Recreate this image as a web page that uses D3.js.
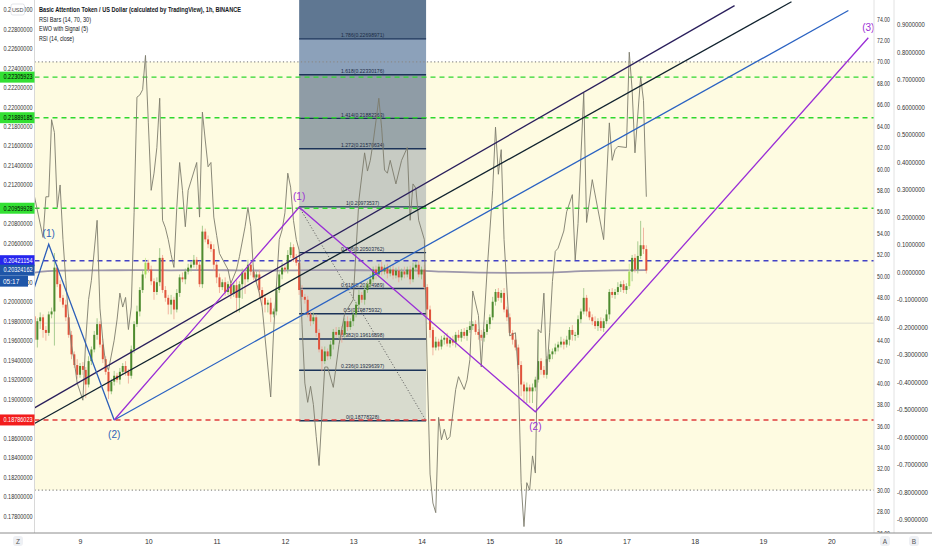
<!DOCTYPE html>
<html>
<head>
<meta charset="utf-8">
<script src="https://cdn.jsdelivr.net/npm/d3@7"></script>
<style>
  body { margin: 0; background: #fff; }
  svg { display: block; font-family: 'Liberation Sans', Arial, sans-serif; }
</style>
</head>
<body>
<div id="chart"></div>
<script>
// Hourly BAT/USD candles, hour 0 = day 9 00:00
const firstHour = -16
const firstOpen = 0.1985
const closes = [
  0.1961, 0.1980, 0.1984, 0.1971, 0.1968, 0.1987, 0.1990, 0.2035, 0.2018, 0.2004,
  0.1997, 0.1984, 0.1966, 0.1946, 0.1935, 0.1925, 0.1934, 0.1930, 0.1915, 0.1939,
  0.1951, 0.1966, 0.1977, 0.1956, 0.1941, 0.1928, 0.1908, 0.1918, 0.1924, 0.1920,
  0.1928, 0.1934, 0.1928, 0.1924, 0.1951, 0.1977, 0.1990, 0.2012, 0.2028, 0.2040,
  0.2033, 0.2021, 0.2010, 0.2020, 0.2045, 0.2012, 0.2004, 0.1997, 0.2002, 0.1992,
  0.2009, 0.2025, 0.2023, 0.2031, 0.2035, 0.2038, 0.2043, 0.2038, 0.2018, 0.2072,
  0.2064, 0.2059, 0.2054, 0.2038, 0.2025, 0.2015, 0.2020, 0.2010, 0.2018, 0.2008,
  0.2017, 0.2004, 0.2018, 0.2030, 0.2023, 0.2038, 0.2031, 0.2025, 0.2028, 0.2012,
  0.2004, 0.1997, 0.1999, 0.1987, 0.1990, 0.2012, 0.2028, 0.2035, 0.2033, 0.2048,
  0.2056, 0.2045, 0.2040, 0.2012, 0.2005, 0.2002, 0.1987, 0.1980, 0.1984, 0.1968,
  0.1951, 0.1939, 0.1949, 0.1944, 0.1956, 0.1969, 0.1966, 0.1971, 0.1966, 0.1980,
  0.1974, 0.1980, 0.1987, 0.1997, 0.2007, 0.2002, 0.2012, 0.2018, 0.2023, 0.2033,
  0.2028, 0.2036, 0.2031, 0.2035, 0.2029, 0.2033, 0.2027, 0.2032, 0.2025, 0.2031,
  0.2028, 0.2033, 0.2023, 0.2035, 0.2038, 0.2028, 0.2033, 0.2015, 0.1992, 0.1971,
  0.1953, 0.1959, 0.1954, 0.1961, 0.1963, 0.1957, 0.1961, 0.1958, 0.1966, 0.1963,
  0.1969, 0.1965, 0.1971, 0.1975, 0.1977, 0.1969, 0.1966, 0.1963, 0.1969, 0.1977,
  0.1984, 0.2000, 0.2010, 0.2004, 0.2009, 0.1992, 0.1984, 0.1968, 0.1961, 0.1953,
  0.1935, 0.1915, 0.1908, 0.1912, 0.1908, 0.1912, 0.1920, 0.1939, 0.1930, 0.1925,
  0.1941, 0.1946, 0.1949, 0.1953, 0.1956, 0.1959, 0.1956, 0.1961, 0.1971, 0.1966,
  0.1966, 0.1982, 0.1990, 0.2004, 0.1990, 0.1984, 0.1980, 0.1975, 0.1980, 0.1973,
  0.1980, 0.1987, 0.2010, 0.2007, 0.2010, 0.2015, 0.2018, 0.2012, 0.2016, 0.2031,
  0.2045, 0.2033, 0.2047, 0.2058, 0.2054, 0.2032
]
// Wick lengths above / below the body, in units of 0.0001
const wickHi = [
  4, 3, 5, 3, 4, 3, 4, 15, 3, 4,  3, 5, 3, 4, 3, 6, 3, 4, 3, 5,
  3, 4, 6, 3, 6, 3, 4, 3, 5, 3,  4, 3, 5, 3, 4, 3, 6, 3, 4, 5,
  3, 4, 3, 5, 10, 3, 4, 3, 5, 3,  4, 3, 5, 3, 4, 3, 5, 3, 4, 6,
  3, 4, 3, 5, 3, 4, 3, 5, 3, 4,  3, 5, 3, 4, 3, 5, 3, 4, 3, 5,
  3, 4, 3, 5, 3, 4, 3, 5, 3, 5,  5, 3, 4, 3, 5, 3, 4, 3, 5, 3,
  4, 3, 5, 3, 4, 3, 5, 3, 4, 3,  5, 3, 4, 3, 5, 3, 4, 3, 5, 3,
  4, 3, 5, 3, 4, 3, 5, 3, 4, 3,  5, 3, 4, 5, 3, 4, 3, 5, 3, 4,
  3, 5, 3, 4, 3, 5, 3, 4, 3, 5,  3, 4, 3, 5, 3, 4, 3, 5, 3, 4,
  3, 5, 3, 4, 3, 5, 3, 4, 3, 5,  3, 4, 3, 5, 3, 4, 3, 30, 3, 4,
  3, 5, 3, 4, 3, 5, 3, 4, 3, 5,  3, 4, 3, 10, 3, 4, 3, 5, 3, 4,
  3, 5, 3, 4, 3, 5, 3, 4, 3, 8,  3, 4, 15, 25, 18, 4
]
const wickLo = [
  8, 8, 8, 8, 8, 3, 4, 35, 3, 4,  3, 4, 3, 5, 3, 4, 3, 5, 14, 3,
  4, 3, 5, 3, 4, 3, 8, 3, 4, 3,  5, 3, 4, 8, 3, 4, 3, 5, 3, 4,
  3, 4, 8, 3, 4, 3, 4, 10, 10, 10,  3, 4, 3, 5, 3, 4, 3, 5, 3, 4,
  3, 4, 3, 6, 6, 6, 3, 4, 3, 5,  3, 15, 15, 15, 15, 3, 4, 3, 5, 8,
  8, 8, 8, 8, 3, 4, 3, 5, 3, 4,  3, 4, 3, 5, 3, 4, 3, 5, 3, 4,
  3, 10, 3, 4, 3, 5, 3, 4, 8, 3,  4, 3, 5, 3, 4, 3, 5, 3, 4, 3,
  5, 3, 4, 3, 5, 3, 4, 3, 5, 3,  4, 3, 5, 3, 4, 3, 5, 3, 8, 8,
  8, 3, 4, 3, 5, 3, 4, 3, 5, 3,  4, 3, 5, 3, 4, 3, 5, 3, 4, 3,
  5, 3, 4, 3, 5, 3, 4, 3, 5, 3,  4, 12, 12, 12, 12, 12, 4, 3, 5, 3,
  4, 3, 5, 3, 4, 3, 5, 3, 6, 6,  6, 3, 4, 3, 5, 3, 4, 3, 5, 3,
  4, 3, 5, 3, 4, 3, 5, 3, 4, 3,  10, 3, 4, 3, 5, 3
]

// RSI (14, close) turning points
const rsiHours = [
  -16, -13, -12, -11, -10, -9, -8, -7, -6, -5,
  -4, -3, -2, -1, 1, 2, 3, 4, 6, 7,
  8, 9, 10, 12, 13, 14, 15, 16, 17, 18,
  19, 20, 21, 22, 23, 24, 25, 26, 27, 28,
  29, 30, 31, 32, 33, 34, 35, 36, 37, 38,
  41, 42, 43, 44, 45, 46, 47, 48, 49, 52,
  53, 55, 56, 58, 59, 60, 61, 63, 64, 67,
  68, 69, 70, 71, 72, 73, 74, 75, 76, 77,
  78, 79, 80, 81, 82, 83, 84, 85, 86, 87,
  89, 91, 93, 96, 98, 100, 101, 102, 103, 104,
  105, 106, 107, 108, 109, 111, 113, 115, 116, 117,
  118, 119, 120, 121, 122, 123, 124, 125, 126, 127,
  128, 129, 130, 132, 133, 135, 136, 137, 138, 140,
  141, 143, 145, 146, 147, 148, 149, 151, 153, 154,
  155, 156, 157, 158, 159, 160, 161, 162, 163, 164,
  165, 166, 167, 168, 170, 171, 173, 174, 175, 176,
  177, 178, 180, 182, 184, 186, 187, 188, 189, 192,
  193, 194, 195, 197, 198, 199
]
const rsiValues = [
  57.4, 53.6, 57.4, 57.4, 64.6, 63.4, 56.4, 58.5, 53.4, 49.6,
  46.0, 43.5, 42.0, 40.0, 38.4, 44.0, 47.8, 49.6, 55.2, 47.0,
  44.0, 41.8, 41.2, 44.0, 45.9, 48.4, 47.1, 48.0, 45.0, 47.1,
  55.9, 66.7, 66.9, 67.4, 70.6, 64.3, 58.0, 59.6, 62.0, 66.6,
  55.2, 54.5, 53.4, 52.0, 50.8, 56.4, 60.6, 58.0, 54.6, 58.0,
  60.6, 55.5, 65.3, 62.7, 60.2, 60.6, 55.5, 53.8, 52.1, 50.6,
  49.3, 50.6, 51.8, 54.6, 56.4, 54.6, 50.3, 48.4, 47.1, 38.7,
  44.7, 49.0, 53.4, 54.3, 55.9, 59.6, 58.3, 55.2, 53.4, 52.4,
  45.5, 40.0, 38.2, 39.7, 38.0, 35.0, 32.3, 37.0, 41.5, 41.5,
  39.6, 43.6, 46.5, 47.8, 57.1, 61.5, 59.8, 60.8, 62.5, 64.5,
  66.6, 63.8, 59.9, 59.6, 60.8, 58.6, 60.8, 62.0, 55.2, 58.6,
  58.2, 55.2, 54.3, 53.4, 41.5, 31.5, 28.8, 27.9, 36.8, 34.7,
  35.7, 34.7, 35.0, 39.4, 40.6, 39.4, 40.3, 42.2, 48.6, 46.3,
  41.5, 50.3, 58.0, 63.9, 59.5, 61.8, 53.4, 44.4, 44.7, 40.9,
  30.7, 26.6, 30.7, 30.0, 33.2, 31.6, 45.0, 44.7, 48.4, 40.9,
  44.7, 49.5, 52.3, 52.6, 54.2, 56.0, 57.6, 51.5, 54.9, 61.1,
  67.1, 55.0, 59.0, 56.2, 53.4, 64.3, 60.8, 61.8, 62.1, 62.0,
  70.9, 67.4, 61.5, 68.6, 66.4, 57.4
]
const rsiUpper = 70
const rsiLower = 30

// EWO with Signal (5)
const ewoHours = [-16, -8, 8, 20, 32, 44, 56, 68, 80, 92, 104, 116, 128, 140, 152, 164, 176, 188, 199]
const ewoValues = [-0.002, 0.005, 0.006, 0.007, 0.006, 0.007, 0.006, 0.005, 0.007, 0.007,
  0.006, 0.006, 0.001, -0.002, -0.003, -0.002, 0.003, 0.006, 0.007]

// Axis ticks
const dayHours = [0, 24, 48, 72, 96, 120, 144, 168, 192, 216, 240, 264]
const dayLabels = ['9', '10', '11', '12', '13', '14', '15', '16', '17', '18', '19', '20']
const priceTicks = [0.178, 0.180, 0.182, 0.184, 0.186, 0.188, 0.190, 0.192, 0.194, 0.196, 0.198,
  0.200, 0.202, 0.204, 0.206, 0.208, 0.210, 0.212, 0.214, 0.216, 0.218, 0.220, 0.222, 0.224,
  0.226, 0.228, 0.230]
const rsiTicks = [26, 28, 30, 32, 34, 36, 38, 40, 42, 44, 46, 48, 50, 52, 54, 56, 58, 60, 62,
  64, 66, 68, 70, 72, 74]
const ewoTicks = [-0.9, -0.8, -0.7, -0.6, -0.5, -0.4, -0.3, -0.2, -0.1, 0, 0.1, 0.2, 0.3, 0.4,
  0.5, 0.6, 0.7, 0.8, 0.9]

// Fibonacci retracement
const fibStart = 77
const fibEnd = 121.6
const fibLevels = ['0', '0.236', '0.382', '0.5', '0.618', '0.786', '1', '1.272', '1.414', '1.618', '1.786']
const fibPrices = [0.18778328, 0.19296397, 0.19616898, 0.19875932, 0.20134989, 0.20503762,
  0.20973537, 0.21570634, 0.21882363, 0.22330176, 0.22698971]

// Horizontal levels and price labels
const levelPrices = [0.22305923, 0.21889185, 0.20959928, 0.20421154, 0.18786023]
const lastPrice = 0.20324162
const countdown = '05:17'
const guidePrice = 0.1978

// Drawings
const blueWaveHours = [-16, -11, 12]
const blueWavePrices = [0.2015, 0.2059, 0.18786]
const blueWaveLabels = ['', '(1)', '(2)']
const purpleWaveHours = [12, 77, 160, 277]
const purpleWavePrices = [0.18786, 0.2097, 0.1887, 0.2271]
const purpleWaveLabels = ['', '(1)', '(2)', '(3)']
const channelAHours = [-16, 230]
const channelAPrices = [0.1891, 0.2304]
const channelBHours = [-16, 250]
const channelBPrices = [0.1875, 0.2308]
const rayHours = [12, 270]
const rayPrices = [0.18786, 0.2299]

const legendLines = [
  'Basic Attention Token / US Dollar (calculated by TradingView), 1h, BINANCE',
  'RSI Bars (14, 70, 30)',
  'EWO with Signal (5)',
  'RSI (14, close)'
]

// Layout
const W = 932
const H = 550
const left = 34.5
const right = 874
const bottom = 533
const font = "'Liberation Sans', Arial, sans-serif"

const svg = d3.select('#chart').append('svg')
  .attr('width', W)
  .attr('height', H)

// Scales
const x = d3.scaleLinear().domain([-16, 279]).range([left, right])
const y = d3.scaleLinear().domain([0.178, 0.228]).range([516, 29])
const yRsi = d3.scaleLinear().domain([26, 74]).range([533, 19])
const yEwo = d3.scaleLinear().domain([-0.9, 0.9]).range([519.5, 24.5])

svg.append('rect').attr('width', W).attr('height', H).attr('fill', '#fff')

svg.append('clipPath').attr('id', 'plot')
  .append('rect')
  .attr('x', left).attr('y', 0)
  .attr('width', right - left).attr('height', bottom)

const plot = svg.append('g').attr('clip-path', 'url(#plot)')

// RSI band
plot.append('rect')
  .attr('x', left)
  .attr('y', yRsi(rsiUpper))
  .attr('width', right - left)
  .attr('height', yRsi(rsiLower) - yRsi(rsiUpper))
  .attr('fill', '#fefbe1')

plot.append('line')
  .attr('x1', left).attr('x2', right)
  .attr('y1', y(guidePrice)).attr('y2', y(guidePrice))
  .attr('stroke', '#dcdcd2')

// Fib bands
const fibBandColors = ['#d8dbce', '#d8dbce', '#d8dbce', '#d8dbce', '#d8dbce', '#d5d8cc',
  '#c7cbc3', '#99a5a9', '#8f9ca6', '#8ca1ba']
const fx0 = x(fibStart)
const fx1 = x(fibEnd)

fibBandColors.forEach((c, i) => {
  plot.append('rect')
    .attr('x', fx0)
    .attr('y', y(fibPrices[i + 1]))
    .attr('width', fx1 - fx0)
    .attr('height', y(fibPrices[i]) - y(fibPrices[i + 1]))
    .attr('fill', c)
})
plot.append('rect')
  .attr('x', fx0).attr('y', 0)
  .attr('width', fx1 - fx0)
  .attr('height', y(fibPrices[fibPrices.length - 1]))
  .attr('fill', '#5f7792')

// RSI 70 / 30
plot.selectAll('.rsi-level')
  .data([rsiUpper, rsiLower])
  .enter()
  .append('line')
  .attr('x1', left).attr('x2', right)
  .attr('y1', d => yRsi(d)).attr('y2', d => yRsi(d))
  .attr('stroke', '#8a8a8a')
  .attr('stroke-width', 1.2)
  .attr('stroke-dasharray', '1.2,2.4')

// Fib level lines
plot.selectAll('.fib-line')
  .data(fibPrices)
  .enter()
  .append('line')
  .attr('x1', fx0).attr('x2', fx1)
  .attr('y1', d => y(d)).attr('y2', d => y(d))
  .attr('stroke', '#1b3358')
  .attr('stroke-width', 1.4)

plot.selectAll('.fib-label')
  .data(fibPrices)
  .enter()
  .append('text')
  .attr('x', (fx0 + fx1) / 2)
  .attr('y', d => y(d) - 1.8)
  .attr('text-anchor', 'middle')
  .attr('font-size', 6)
  .attr('fill', '#1b2b45')
  .attr('textLength', (d, i) => (fibLevels[i] + '(' + d.toFixed(8) + ')').length * 2.55)
  .attr('lengthAdjust', 'spacingAndGlyphs')
  .text((d, i) => `${fibLevels[i]}(${d.toFixed(8)})`)

plot.append('line')
  .attr('x1', fx0).attr('y1', y(fibPrices[6]))
  .attr('x2', fx1).attr('y2', y(fibPrices[0]))
  .attr('stroke', '#555')
  .attr('stroke-dasharray', '1,2')

// Dashed price levels
const levelColors = ['#2fd82f', '#2fd82f', '#2fd82f', '#4242c6', '#e03c3c']
plot.selectAll('.level')
  .data(levelPrices)
  .enter()
  .append('line')
  .attr('x1', left).attr('x2', right)
  .attr('y1', d => y(d)).attr('y2', d => y(d))
  .attr('stroke', (d, i) => levelColors[i])
  .attr('stroke-width', 1.4)
  .attr('stroke-dasharray', '5,4')

// EWO line
const ewoLine = d3.line()
  .x(d => x(d[0]))
  .y(d => yEwo(d[1]))
  .curve(d3.curveMonotoneX)

plot.append('path')
  .datum(ewoHours.map((h, i) => [h, ewoValues[i]]))
  .attr('d', ewoLine)
  .attr('fill', 'none')
  .attr('stroke', '#9d97ab')
  .attr('stroke-width', 1.8)

// Candles
const rsiByHour = new Map(rsiHours.map((h, i) => [h, rsiValues[i]]))
const candles = closes.map((c, i) => {
  const o = i === 0 ? firstOpen : closes[i - 1]
  return {
    hour: firstHour + i,
    open: o,
    close: c,
    high: Math.max(o, c) + wickHi[i] / 10000,
    low: Math.min(o, c) - wickLo[i] / 10000
  }
})

function candleColor(d) {
  if ((rsiByHour.get(d.hour) || 0) > rsiUpper) return '#a6dc5a'
  return d.close >= d.open ? '#4e8b2f' : '#e0533c'
}

function wickColor(d) {
  if ((rsiByHour.get(d.hour) || 0) > rsiUpper) return '#c8ea96'
  return d.close >= d.open ? '#93c07c' : '#eea391'
}

plot.selectAll('.wick')
  .data(candles)
  .enter()
  .append('line')
  .attr('x1', d => x(d.hour)).attr('x2', d => x(d.hour))
  .attr('y1', d => y(d.high)).attr('y2', d => y(d.low))
  .attr('stroke', wickColor)
  .attr('stroke-width', 0.8)

plot.selectAll('.body')
  .data(candles)
  .enter()
  .append('rect')
  .attr('x', d => x(d.hour) - 1)
  .attr('y', d => y(Math.max(d.open, d.close)))
  .attr('width', 2)
  .attr('height', d => Math.max(1, Math.abs(y(d.open) - y(d.close))))
  .attr('fill', candleColor)

// RSI line
plot.append('path')
  .datum(rsiHours.map((h, i) => [h, rsiValues[i]]))
  .attr('d', d3.line().x(d => x(d[0])).y(d => yRsi(d[1])))
  .attr('fill', 'none')
  .attr('stroke', '#7d7c6c')
  .attr('stroke-width', 0.9)

// Trend lines
const priceLine = d3.line().x(d => x(d[0])).y(d => y(d[1]))

function drawLine(hours, prices, color, width) {
  plot.append('path')
    .datum(hours.map((h, i) => [h, prices[i]]))
    .attr('d', priceLine)
    .attr('fill', 'none')
    .attr('stroke', color)
    .attr('stroke-width', width)
}

drawLine(channelAHours, channelAPrices, '#2a1f5c', 1.3)
drawLine(channelBHours, channelBPrices, '#10222e', 1.3)
drawLine(rayHours, rayPrices, '#2a62c2', 1.3)
drawLine(blueWaveHours, blueWavePrices, '#2d5fb8', 1.3)
drawLine(purpleWaveHours, purpleWavePrices, '#9a2fd6', 1.3)

// Wave labels
function waveLabels(hours, prices, labels, color) {
  plot.selectAll(null)
    .data(labels)
    .enter()
    .filter(d => d !== '')
    .append('text')
    .attr('x', (d, i) => x(hours[labels.indexOf(d)]))
    .attr('y', d => {
      const i = labels.indexOf(d)
      const peak = prices[i] > prices[i - 1]
      return peak ? y(prices[i]) - 7 : y(prices[i]) + 18
    })
    .attr('text-anchor', 'middle')
    .attr('font-size', 10)
    .attr('fill', color)
    .text(d => d)
}

waveLabels(blueWaveHours, blueWavePrices, blueWaveLabels, '#2d5fb8')
waveLabels(purpleWaveHours, purpleWavePrices, purpleWaveLabels, '#9a2fd6')

// Left price axis, skipping ticks hidden under the coloured price labels
const markedPrices = levelPrices.concat([lastPrice])
const visibleTicks = priceTicks.filter(t => markedPrices.every(m => Math.abs(y(t) - y(m)) > 6))

const priceAxis = svg.append('g')
  .attr('transform', `translate(${left}, 0)`)
  .call(d3.axisLeft(y).tickValues(visibleTicks).tickSize(0).tickPadding(2)
    .tickFormat(d => d.toFixed(8)))
priceAxis.select('.domain').remove()
priceAxis.attr('font-size', 6.5).attr('font-family', font)
priceAxis.selectAll('text')
  .attr('fill', '#333')
  .attr('textLength', 29)
  .attr('lengthAdjust', 'spacingAndGlyphs')

// RSI axis
const rsiAxis = svg.append('g')
  .attr('transform', `translate(${right}, 0)`)
  .call(d3.axisRight(yRsi).tickValues(rsiTicks).tickSize(0).tickPadding(3)
    .tickFormat(d => d.toFixed(2)))
rsiAxis.select('.domain').remove()
rsiAxis.attr('font-size', 6.5).attr('font-family', font)
rsiAxis.selectAll('text')
  .attr('fill', '#333')
  .attr('textLength', 13)
  .attr('lengthAdjust', 'spacingAndGlyphs')

// EWO axis
const ewoAxis = svg.append('g')
  .attr('transform', `translate(894, 0)`)
  .call(d3.axisRight(yEwo).tickValues(ewoTicks).tickSize(0).tickPadding(3)
    .tickFormat(d => d.toFixed(7)))
ewoAxis.select('.domain').remove()
ewoAxis.attr('font-size', 6.5).attr('font-family', font)
ewoAxis.selectAll('text')
  .attr('fill', '#333')
  .attr('textLength', d => d.toFixed(7).length * 3.1)
  .attr('lengthAdjust', 'spacingAndGlyphs')

// Separators
svg.append('line').attr('x1', left).attr('x2', left).attr('y1', 0).attr('y2', bottom)
  .attr('stroke', '#d8d8d8')
svg.append('line').attr('x1', right).attr('x2', right).attr('y1', 0).attr('y2', bottom)
  .attr('stroke', '#e2e2e2')
svg.append('line').attr('x1', 894).attr('x2', 894).attr('y1', 0).attr('y2', bottom)
  .attr('stroke', '#e2e2e2')

// Time axis
svg.append('rect').attr('x', 0).attr('y', bottom).attr('width', W).attr('height', H - bottom)
  .attr('fill', '#fff')
svg.append('line').attr('x1', 0).attr('x2', W).attr('y1', bottom).attr('y2', bottom)
  .attr('stroke', '#8c8c8c')

const timeAxis = svg.append('g')
  .attr('transform', `translate(0, ${bottom})`)
  .call(d3.axisBottom(x).tickValues(dayHours).tickSize(0).tickPadding(6)
    .tickFormat((d, i) => dayLabels[i]))
timeAxis.select('.domain').remove()
timeAxis.attr('font-size', 7).attr('font-family', font)
timeAxis.selectAll('text').attr('fill', '#333')

const cornerButtons = [['Z', 18], ['A', 885], ['B', 914]]
cornerButtons.forEach(([t, cx]) => {
  svg.append('rect')
    .attr('x', cx - 5).attr('y', 536)
    .attr('width', 10).attr('height', 10)
    .attr('rx', 3)
    .attr('fill', '#eef0f4')
  svg.append('text')
    .attr('x', cx).attr('y', 543.5)
    .attr('text-anchor', 'middle')
    .attr('font-size', 6.5)
    .attr('fill', '#555')
    .text(t)
})

// Price labels on the left axis
const labelFills = ['#33e033', '#33e033', '#33e033', '#2626ee', '#f21d1d']
const labelText = ['#000', '#000', '#000', '#fff', '#fff']

function priceLabel(value, fill, color) {
  svg.append('rect')
    .attr('x', 0).attr('y', y(value) - 5.5)
    .attr('width', 34.5).attr('height', 11)
    .attr('fill', fill)
  svg.append('text')
    .attr('x', 32.5).attr('y', y(value) + 2.3)
    .attr('text-anchor', 'end')
    .attr('font-size', 6.5)
    .attr('fill', color)
    .attr('textLength', 29)
    .attr('lengthAdjust', 'spacingAndGlyphs')
    .text(value.toFixed(8))
}

levelPrices.forEach((v, i) => priceLabel(v, labelFills[i], labelText[i]))
priceLabel(lastPrice, '#1f56a8', '#fff')

svg.append('rect')
  .attr('x', 0).attr('y', y(lastPrice) + 5.5)
  .attr('width', 28).attr('height', 11)
  .attr('fill', '#1f56a8')
svg.append('text')
  .attr('x', 3).attr('y', y(lastPrice) + 13.6)
  .attr('font-size', 6.5)
  .attr('fill', '#fff')
  .text(countdown)

// Legend
svg.selectAll('.legend')
  .data(legendLines)
  .enter()
  .append('text')
  .attr('x', 39)
  .attr('y', (d, i) => 12 + i * 9.5)
  .attr('font-size', 7)
  .attr('font-weight', (d, i) => i === 0 ? 'bold' : 'normal')
  .attr('fill', '#131722')
  .attr('textLength', (d, i) => [202, 52, 49, 35][i])
  .attr('lengthAdjust', 'spacingAndGlyphs')
  .text(d => d)

// USD button
svg.append('rect')
  .attr('x', 11).attr('y', 4)
  .attr('width', 13.5).attr('height', 11)
  .attr('rx', 2)
  .attr('fill', '#fff')
  .attr('stroke', '#d0d3da')
  .attr('stroke-width', 0.6)
svg.append('text')
  .attr('x', 17.7).attr('y', 11.8)
  .attr('text-anchor', 'middle')
  .attr('font-size', 5.5)
  .attr('fill', '#444')
  .text('USD')
</script>
</body>
</html>
